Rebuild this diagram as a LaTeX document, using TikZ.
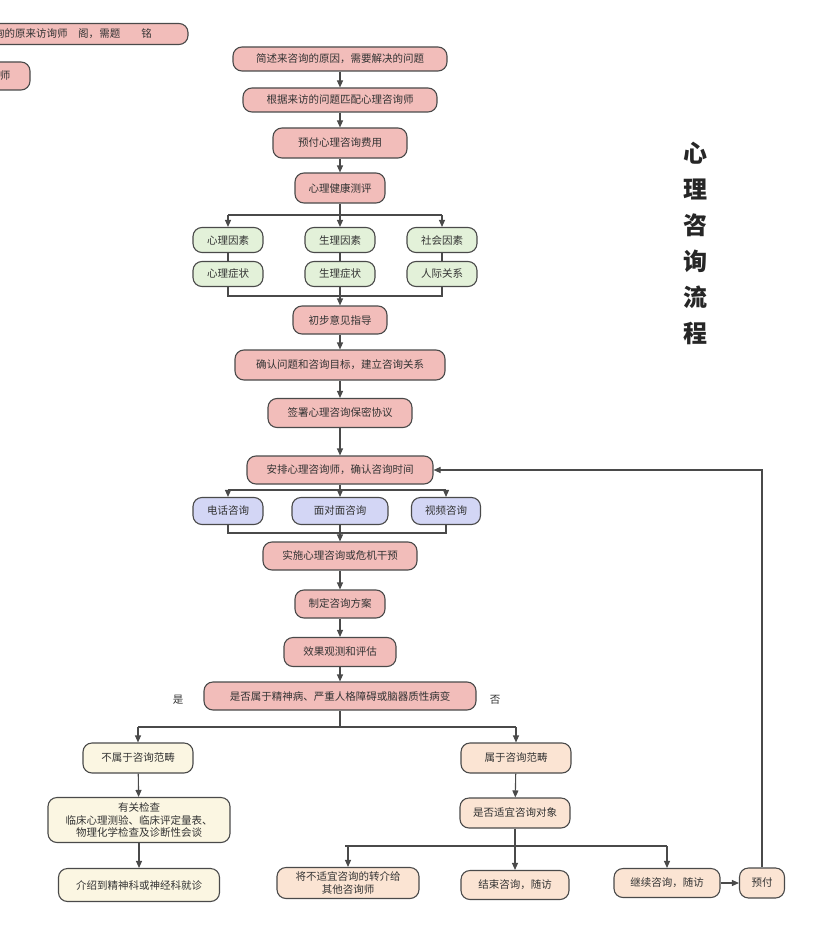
\documentclass[tikz,border=0pt]{standalone}
\usepackage{fontspec}
\setmainfont{Noto Sans CJK SC}
\usetikzlibrary{arrows.meta,positioning}
\definecolor{pinkbox}{HTML}{F2BDBA}
\definecolor{greenbox}{HTML}{E3F1D9}
\definecolor{bluebox}{HTML}{D3D6F5}
\definecolor{creambox}{HTML}{FBF6E2}
\definecolor{peachbox}{HTML}{FBE4D3}
\definecolor{edgegray}{HTML}{4A4A4A}
\tikzset{
  box/.style={draw=edgegray,line width=1.1pt,rounded corners=9pt,align=center,
    inner sep=2pt,font=\fontsize{10.5}{13}\selectfont,text=black!80},
  pinkstep/.style={box,fill=pinkbox},
  greenstep/.style={box,fill=greenbox},
  bluestep/.style={box,fill=bluebox},
  creamstep/.style={box,fill=creambox},
  peachstep/.style={box,fill=peachbox},
  link/.style={draw=edgegray,line width=1.1pt},
  flow/.style={link,-{Triangle[length=7pt,width=6pt]}},
}
\begin{document}
\begin{tikzpicture}[x=1pt,y=-1pt]
\useasboundingbox (0,0) rectangle (831,947);

% cut-off fragments at top left
\node[pinkstep,minimum width=230,minimum height=21] (fragA) at (73,34) {询的原来访询师\quad 阁，需题\qquad 铭};
\node[pinkstep,minimum width=50,minimum height=28] (fragB) at (5,76) {师};

% main chain
\node[pinkstep,minimum width=214,minimum height=24] (brief) at (340,59) {简述来咨询的原因，需要解决的问题};
\node[pinkstep,minimum width=194,minimum height=24] (match) at (340,100) {根据来访的问题匹配心理咨询师};
\node[pinkstep,minimum width=134,minimum height=30] (prepay) at (340,143) {预付心理咨询费用};
\node[pinkstep,minimum width=90,minimum height=30] (assess) at (340,188) {心理健康测评};

% factors
\node[greenstep,minimum width=70,minimum height=25] (psyf) at (228,240) {心理因素};
\node[greenstep,minimum width=70,minimum height=25] (phyf) at (340,240) {生理因素};
\node[greenstep,minimum width=70,minimum height=25] (socf) at (442,240) {社会因素};
\node[greenstep,minimum width=70,minimum height=25] (psys) at (228,274) {心理症状};
\node[greenstep,minimum width=70,minimum height=25] (phys) at (340,274) {生理症状};
\node[greenstep,minimum width=70,minimum height=25] (socs) at (442,274) {人际关系};

\node[pinkstep,minimum width=94,minimum height=28] (advice) at (340,320) {初步意见指导};
\node[pinkstep,minimum width=210,minimum height=30] (goal) at (340,365) {确认问题和咨询目标，建立咨询关系};
\node[pinkstep,minimum width=144,minimum height=29] (sign) at (340,413) {签署心理咨询保密协议};
\node[pinkstep,minimum width=186,minimum height=28] (arrange) at (340,470) {安排心理咨询师，确认咨询时间};

% modes
\node[bluestep,minimum width=70,minimum height=27] (phone) at (228,511) {电话咨询};
\node[bluestep,minimum width=96,minimum height=27] (face) at (340,511) {面对面咨询};
\node[bluestep,minimum width=69,minimum height=27] (video) at (446,511) {视频咨询};

\node[pinkstep,minimum width=154,minimum height=28] (act) at (340,556) {实施心理咨询或危机干预};
\node[pinkstep,minimum width=90,minimum height=28] (plan) at (340,604) {制定咨询方案};
\node[pinkstep,minimum width=112,minimum height=29] (eval) at (340,652) {效果观测和评估};
\node[pinkstep,minimum width=272,minimum height=28] (judge) at (340,696) {是否属于精神病、严重人格障碍或脑器质性病变};
\node[font=\fontsize{10.5}{13}\selectfont,text=black!80] (yes) at (178,700) {是};
\node[font=\fontsize{10.5}{13}\selectfont,text=black!80] (no) at (495,700) {否};

% left branch
\node[creamstep,minimum width=110,minimum height=30] (outside) at (138,758) {不属于咨询范畴};
\node[creamstep,minimum width=182,minimum height=45,inner sep=1pt,font=\fontsize{10.5}{12.5}\selectfont] (check) at (139,820) {有关检查\\临床心理测验、临床评定量表、\\物理化学检查及诊断性会谈};
\node[creamstep,minimum width=161,minimum height=33] (refer) at (139,885) {介绍到精神科或神经科就诊};

% right branch
\node[peachstep,minimum width=110,minimum height=30] (inside) at (516,758) {属于咨询范畴};
\node[peachstep,minimum width=110,minimum height=30] (suit) at (515,813) {是否适宜咨询对象};
\node[peachstep,minimum width=142,minimum height=31,font=\fontsize{10.5}{12.5}\selectfont] (other) at (348,883) {将不适宜咨询的转介给\\其他咨询师};
\node[peachstep,minimum width=108,minimum height=29] (finish) at (515,885) {结束咨询，随访};
\node[peachstep,minimum width=106,minimum height=29] (cont) at (667,883) {继续咨询，随访};
\node[peachstep,minimum width=45,minimum height=30] (pay) at (762,883) {预付};

% title
\node[font=\fontsize{24}{36}\selectfont\bfseries,align=center,text=black!85] (title) at (695,243) {心\\理\\咨\\询\\流\\程};

% connectors
\draw[flow] (brief) -- (match);
\draw[flow] (match) -- (prepay);
\draw[flow] (prepay) -- (assess);
\draw[link] (assess) -- (340,215);
\draw[link] (228,215) -- (442,215);
\foreach \f in {psyf,phyf,socf} \draw[flow] (\f.north |- 0,215) -- (\f.north);
\draw[link] (psyf) -- (psys);
\draw[link] (phyf) -- (phys);
\draw[link] (socf) -- (socs);
\draw[link] (psys.south) |- (340,296) -| (socs.south);
\draw[flow] (phys.south) -- (advice.north);
\draw[flow] (advice) -- (goal);
\draw[flow] (goal) -- (sign);
\draw[flow] (sign) -- (arrange);
\draw[link] (228,490) -- (446,490);
\foreach \m in {phone,face,video} \draw[flow] (\m.north |- 0,490) -- (\m.north);
\draw[link] (arrange) -- (340,490);
\draw[link] (phone.south) |- (340,533) -| (video.south);
\draw[flow] (face.south) -- (act.north);
\draw[flow] (act) -- (plan);
\draw[flow] (plan) -- (eval);
\draw[flow] (eval) -- (judge);
\draw[link] (judge.south) -- (340,727);
\draw[link] (138,727) -- (516,727);
\draw[flow] (outside.north |- 0,727) -- (outside.north);
\draw[flow] (inside.north |- 0,727) -- (inside.north);
\draw[flow] (outside) -- (check);
\draw[flow] (check) -- (refer);
\draw[flow] (inside) -- (suit);
\draw[link] (345,846) -- (667,846);
\draw[flow] (suit.south) -- (finish.north);
\draw[flow] (other.north |- 0,846) -- (other.north);
\draw[flow] (cont.north |- 0,846) -- (cont.north);
\draw[flow] (cont) -- (pay);
\draw[flow] (pay.north) |- (arrange.east);
\end{tikzpicture}
\end{document}
